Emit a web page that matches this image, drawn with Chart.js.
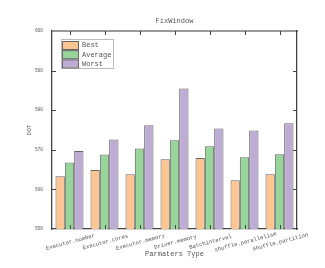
<!DOCTYPE html>
<html>
<head>
<meta charset="utf-8">
<script src="https://cdn.jsdelivr.net/npm/chart.js@4/dist/chart.umd.min.js"></script>
<style>
  html, body { margin: 0; padding: 0; background: #fff; }
  #myChart { display: block; }
</style>
</head>
<body>
<canvas id="myChart" width="325" height="268"></canvas>
<script>
const categories = ["Executor.number", "Executor.cores", "Executor.memory", "Driver.memory",
  "Batchinterval", "shuffle.parallelism", "Shuffle.partition"];
const best = [563.3, 564.9, 563.8, 567.6, 567.9, 562.3, 563.8];
const average = [566.8, 568.8, 570.3, 572.4, 570.9, 568.1, 568.9];
const worst = [569.7, 572.6, 576.2, 585.5, 575.4, 574.9, 576.7];
const seriesNames = ["Best", "Average", "Worst"];
const yMin = 550, yMax = 600, yStep = 10;

const mono = "'Liberation Mono', monospace";
const axisColor = "#444";
const textColor = "#555";

// ticks inside the frame, rotated labels, title and legend
const frameExtras = {
  id: "frameExtras",
  afterDraw(chart) {
    const ctx = chart.ctx;
    const area = chart.chartArea;
    const x = chart.scales.x;
    const y = chart.scales.y;
    ctx.save();
    ctx.strokeStyle = axisColor;
    ctx.lineWidth = 1;
    for (let v = yMin + yStep; v < yMax; v += yStep) {
      const py = Math.round(y.getPixelForValue(v)) + 0.5;
      ctx.beginPath();
      ctx.moveTo(area.left, py); ctx.lineTo(area.left + 4, py);
      ctx.moveTo(area.right, py); ctx.lineTo(area.right - 4, py);
      ctx.stroke();
    }
    categories.forEach((c, i) => {
      const px = Math.round(x.getPixelForTick(i)) + 0.5;
      ctx.beginPath();
      ctx.moveTo(px, area.bottom); ctx.lineTo(px, area.bottom - 4);
      ctx.moveTo(px, area.top); ctx.lineTo(px, area.top + 4);
      ctx.stroke();
      // rotated category label, centred under the tick
      ctx.save();
      ctx.translate(px, area.bottom + 13);
      ctx.rotate(-15 * Math.PI / 180);
      ctx.font = "5.6px " + mono;
      ctx.fillStyle = textColor;
      ctx.textAlign = "center";
      ctx.textBaseline = "middle";
      ctx.fillText(c, 0, 0);
      ctx.restore();
    });

    // title
    ctx.font = "7px " + mono;
    ctx.fillStyle = textColor;
    ctx.textAlign = "center";
    ctx.textBaseline = "middle";
    ctx.fillText("FixWindow", (area.left + area.right) / 2, 21);

    // legend
    const lx = area.left + 9, ly = area.top + 8;
    ctx.fillStyle = "#fff";
    ctx.fillRect(lx, ly, 52, 29);
    ctx.strokeStyle = "#bbb";
    ctx.lineWidth = 1;
    ctx.strokeRect(lx + 0.5, ly + 0.5, 52, 29);
    chart.data.datasets.forEach((ds, i) => {
      const sy = ly + 2 + i * 9.2;
      ctx.fillStyle = ds.backgroundColor;
      ctx.fillRect(lx + 1, sy, 16, 8);
      ctx.strokeStyle = "#666";
      ctx.strokeRect(lx + 1.5, sy + 0.5, 16, 8);
      ctx.fillStyle = textColor;
      ctx.textAlign = "left";
      ctx.font = "7px " + mono;
      ctx.fillText(ds.label, lx + 21, sy + 4.5);
    });
    ctx.restore();
  }
};

const barStyle = { borderColor: "#666", borderWidth: 1, base: yMin, borderSkipped: "bottom" };

const ctx = document.getElementById("myChart");
const myChart = new Chart(ctx, {
  type: "bar",
  data: {
    labels: categories,
    datasets: [
      { label: seriesNames[0], data: best, backgroundColor: "#fdc592", ...barStyle },
      { label: seriesNames[1], data: average, backgroundColor: "#98d59b", ...barStyle },
      { label: seriesNames[2], data: worst, backgroundColor: "#bdadd5", ...barStyle }
    ]
  },
  options: {
    responsive: false,
    animation: false,
    devicePixelRatio: 1,
    layout: { padding: 0 },
    datasets: { bar: { categoryPercentage: 0.8, barPercentage: 1 } },
    plugins: { legend: { display: false }, tooltip: { enabled: false } },
    scales: {
      x: {
        position: "bottom",
        grid: { display: false, drawTicks: false },
        border: { color: axisColor, width: 1.3 },
        ticks: { display: false },
        title: { display: true, text: "Parmaters Type", color: textColor,
          font: { family: mono, size: 7 }, padding: { top: 0, bottom: 10 } },
        afterFit(s) { s.height = 39; }
      },
      x2: {
        position: "top",
        grid: { display: false, drawTicks: false },
        border: { color: "#999", width: 2 },
        ticks: { display: false },
        afterFit(s) { s.height = 31; }
      },
      y: {
        position: "left",
        min: yMin, max: yMax,
        grid: { display: false, drawTicks: false },
        border: { color: axisColor, width: 1.3 },
        ticks: { stepSize: yStep, padding: 9, color: textColor, font: { family: mono, size: 4.5 } },
        title: { display: true, text: "DOT", color: textColor,
          font: { family: mono, size: 6 }, padding: { top: 26, bottom: 0 } },
        afterFit(s) { s.width = 52; }
      },
      y2: {
        position: "right",
        min: yMin, max: yMax,
        grid: { display: false, drawTicks: false },
        border: { color: axisColor, width: 1.3 },
        ticks: { display: false },
        afterFit(s) { s.width = 28; }
      }
    }
  },
  plugins: [frameExtras]
});
</script>
</body>
</html>
